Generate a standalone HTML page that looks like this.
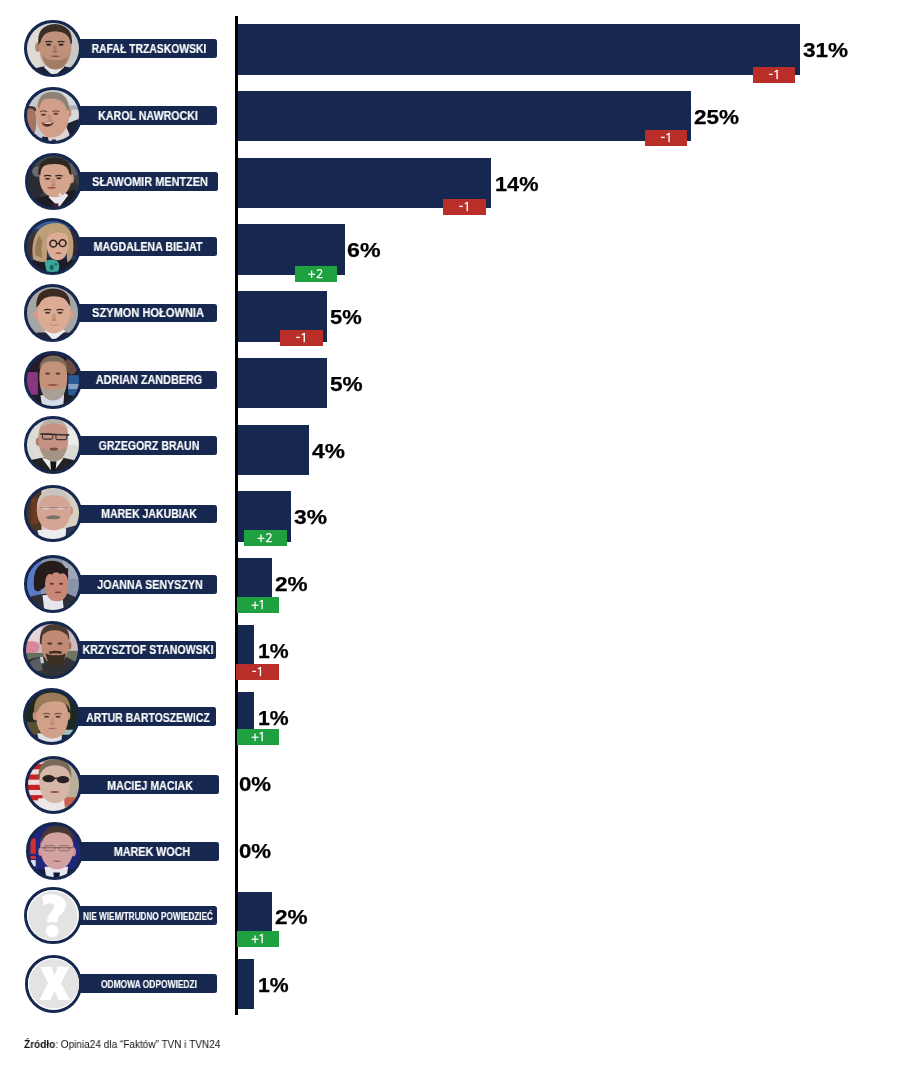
<!DOCTYPE html>
<html><head><meta charset="utf-8"><style>
*{margin:0;padding:0;box-sizing:border-box}
html,body{width:900px;height:1068px;background:#fff;overflow:hidden;position:relative;font-family:"Liberation Sans",sans-serif}
.axis{position:absolute;left:235.2px;top:16px;width:2.8px;height:999px;background:#000}
.bar{position:absolute;left:238px;height:50.5px;background:#16284f}
.bd{position:absolute}
.bd svg{display:block}
.bd.r{background:#b92e28}
.bd.g{background:#1fa142}
.pc{position:absolute;transform-origin:0 0;font-weight:bold;font-size:20.5px;line-height:20.5px;color:#000;white-space:nowrap;-webkit-text-stroke:0.25px #000}
.lb{position:absolute;left:60px;height:18.6px;background:#16284f;border-radius:0 2.5px 2.5px 0}
.nm{position:absolute;color:#fff;font-weight:bold;font-size:12.2px;line-height:12px;white-space:nowrap;transform:translate(-50%,-50%);-webkit-text-stroke:0.15px #fff}
.nm.sm{font-size:10.3px}
.nm,.pc,.bd,.src{will-change:transform}
.cc{position:absolute;width:57.6px;height:57.6px;border-radius:50%;border:3.6px solid #16284f;overflow:hidden;background:#16284f}
.cc svg{display:block;width:100%;height:100%}
.src{position:absolute;left:24.3px;top:1038px;font-size:10.5px;line-height:12px;color:#111;white-space:nowrap;transform:scaleX(0.955);transform-origin:0 0}
</style></head>
<body>
<div class="axis"></div>
<div class="bar" style="top:24px;width:562px"></div>
<div class="bar" style="top:90.75px;width:452.7px"></div>
<div class="bar" style="top:157.5px;width:252.9px"></div>
<div class="bar" style="top:224.25px;width:107px"></div>
<div class="bar" style="top:291px;width:89px"></div>
<div class="bar" style="top:357.75px;width:89px"></div>
<div class="bar" style="top:424.5px;width:70.7px"></div>
<div class="bar" style="top:491.25px;width:53px"></div>
<div class="bar" style="top:558px;width:34px"></div>
<div class="bar" style="top:624.75px;width:16px"></div>
<div class="bar" style="top:691.5px;width:16px"></div>
<div class="bar" style="top:891.75px;width:34px"></div>
<div class="bar" style="top:958.5px;width:16px"></div>
<div class="bd r" style="left:753px;top:67px;width:42.3px;height:16px"><svg width="42.3" height="16" viewBox="0 0 42.3 16"><g transform="translate(15.95,2.9)" fill="#fff"><rect x="0" y="3.85" width="3.8" height="1.3"/><g transform="translate(5.40,0)"><rect x="2.05" y="0" width="1.35" height="9.3"/><path d="M2.9 0.35 L0.2 2.0" stroke="#fff" stroke-width="1.15" fill="none"/></g></g></svg></div>
<div class="bd r" style="left:644.7px;top:130px;width:42.3px;height:16px"><svg width="42.3" height="16" viewBox="0 0 42.3 16"><g transform="translate(15.95,2.9)" fill="#fff"><rect x="0" y="3.85" width="3.8" height="1.3"/><g transform="translate(5.40,0)"><rect x="2.05" y="0" width="1.35" height="9.3"/><path d="M2.9 0.35 L0.2 2.0" stroke="#fff" stroke-width="1.15" fill="none"/></g></g></svg></div>
<div class="bd r" style="left:443px;top:198.7px;width:42.7px;height:16px"><svg width="42.7" height="16" viewBox="0 0 42.7 16"><g transform="translate(16.15,2.9)" fill="#fff"><rect x="0" y="3.85" width="3.8" height="1.3"/><g transform="translate(5.40,0)"><rect x="2.05" y="0" width="1.35" height="9.3"/><path d="M2.9 0.35 L0.2 2.0" stroke="#fff" stroke-width="1.15" fill="none"/></g></g></svg></div>
<div class="bd g" style="left:295px;top:266px;width:42.3px;height:15.7px"><svg width="42.3" height="15.7" viewBox="0 0 42.3 15.7"><g transform="translate(13.20,2.9)" fill="#fff"><rect x="0" y="4.75" width="6.9" height="1.25"/><rect x="2.83" y="1.6" width="1.25" height="7.6"/><g transform="translate(8.10,0)"><path d="M0.75 2.1 C1.2 0.9 2.1 0.65 3.1 0.65 C4.5 0.65 5.4 1.5 5.4 2.7 C5.4 4.0 4.5 5.0 3.2 6.2 L0.75 8.65 L6.2 8.65" stroke="#fff" stroke-width="1.3" fill="none" stroke-linejoin="round"/></g></g></svg></div>
<div class="bd r" style="left:280.3px;top:329.6px;width:42.7px;height:16px"><svg width="42.7" height="16" viewBox="0 0 42.7 16"><g transform="translate(16.15,2.9)" fill="#fff"><rect x="0" y="3.85" width="3.8" height="1.3"/><g transform="translate(5.40,0)"><rect x="2.05" y="0" width="1.35" height="9.3"/><path d="M2.9 0.35 L0.2 2.0" stroke="#fff" stroke-width="1.15" fill="none"/></g></g></svg></div>
<div class="bd g" style="left:244px;top:530px;width:43px;height:15.7px"><svg width="43" height="15.7" viewBox="0 0 43 15.7"><g transform="translate(13.55,2.9)" fill="#fff"><rect x="0" y="4.75" width="6.9" height="1.25"/><rect x="2.83" y="1.6" width="1.25" height="7.6"/><g transform="translate(8.10,0)"><path d="M0.75 2.1 C1.2 0.9 2.1 0.65 3.1 0.65 C4.5 0.65 5.4 1.5 5.4 2.7 C5.4 4.0 4.5 5.0 3.2 6.2 L0.75 8.65 L6.2 8.65" stroke="#fff" stroke-width="1.3" fill="none" stroke-linejoin="round"/></g></g></svg></div>
<div class="bd g" style="left:237px;top:597px;width:42px;height:15.6px"><svg width="42" height="15.6" viewBox="0 0 42 15.6"><g transform="translate(14.60,2.9)" fill="#fff"><rect x="0" y="4.75" width="6.9" height="1.25"/><rect x="2.83" y="1.6" width="1.25" height="7.6"/><g transform="translate(7.80,0)"><rect x="2.05" y="0" width="1.35" height="9.3"/><path d="M2.9 0.35 L0.2 2.0" stroke="#fff" stroke-width="1.15" fill="none"/></g></g></svg></div>
<div class="bd r" style="left:236px;top:664px;width:43px;height:15.7px"><svg width="43" height="15.7" viewBox="0 0 43 15.7"><g transform="translate(16.30,2.9)" fill="#fff"><rect x="0" y="3.85" width="3.8" height="1.3"/><g transform="translate(5.40,0)"><rect x="2.05" y="0" width="1.35" height="9.3"/><path d="M2.9 0.35 L0.2 2.0" stroke="#fff" stroke-width="1.15" fill="none"/></g></g></svg></div>
<div class="bd g" style="left:237px;top:729px;width:42px;height:15.7px"><svg width="42" height="15.7" viewBox="0 0 42 15.7"><g transform="translate(14.60,2.9)" fill="#fff"><rect x="0" y="4.75" width="6.9" height="1.25"/><rect x="2.83" y="1.6" width="1.25" height="7.6"/><g transform="translate(7.80,0)"><rect x="2.05" y="0" width="1.35" height="9.3"/><path d="M2.9 0.35 L0.2 2.0" stroke="#fff" stroke-width="1.15" fill="none"/></g></g></svg></div>
<div class="bd g" style="left:237px;top:931.3px;width:42px;height:16px"><svg width="42" height="16" viewBox="0 0 42 16"><g transform="translate(14.60,2.9)" fill="#fff"><rect x="0" y="4.75" width="6.9" height="1.25"/><rect x="2.83" y="1.6" width="1.25" height="7.6"/><g transform="translate(7.80,0)"><rect x="2.05" y="0" width="1.35" height="9.3"/><path d="M2.9 0.35 L0.2 2.0" stroke="#fff" stroke-width="1.15" fill="none"/></g></g></svg></div>
<div class="pc" style="left:803px;top:40.2px;transform:scaleX(1.0990)">31%</div>
<div class="pc" style="left:694px;top:107.03px;transform:scaleX(1.0990)">25%</div>
<div class="pc" style="left:494.54px;top:173.88px;transform:scaleX(1.0583)">14%</div>
<div class="pc" style="left:347.08px;top:240.36px;transform:scaleX(1.1309)">6%</div>
<div class="pc" style="left:330px;top:307.17px;transform:scaleX(1.0714)">5%</div>
<div class="pc" style="left:330px;top:374.33px;transform:scaleX(1.1029)">5%</div>
<div class="pc" style="left:311.8px;top:440.8px;transform:scaleX(1.1082)">4%</div>
<div class="pc" style="left:293.54px;top:507.07px;transform:scaleX(1.1123)">3%</div>
<div class="pc" style="left:275.46px;top:574.45px;transform:scaleX(1.1029)">2%</div>
<div class="pc" style="left:258px;top:640.52px;transform:scaleX(1.0354)">1%</div>
<div class="pc" style="left:258px;top:707.52px;transform:scaleX(1.0354)">1%</div>
<div class="pc" style="left:238.74px;top:774.34px;transform:scaleX(1.0840)">0%</div>
<div class="pc" style="left:238.74px;top:840.6px;transform:scaleX(1.0840)">0%</div>
<div class="pc" style="left:275.46px;top:907.45px;transform:scaleX(1.1029)">2%</div>
<div class="pc" style="left:258px;top:974.63px;transform:scaleX(1.0354)">1%</div>
<div class="lb" style="top:39px;width:157.4px"></div>
<div class="lb" style="top:106px;width:157.4px"></div>
<div class="lb" style="top:172.3px;width:158px"></div>
<div class="lb" style="top:237px;width:157.3px"></div>
<div class="lb" style="top:303.7px;width:157.3px"></div>
<div class="lb" style="top:370.7px;width:157.3px"></div>
<div class="lb" style="top:436px;width:157.3px"></div>
<div class="lb" style="top:504.7px;width:157.3px"></div>
<div class="lb" style="top:575.1px;width:157.3px"></div>
<div class="lb" style="top:640.7px;width:156px"></div>
<div class="lb" style="top:707.4px;width:155.5px"></div>
<div class="lb" style="top:775.4px;width:158.7px"></div>
<div class="lb" style="top:842px;width:159px"></div>
<div class="lb" style="top:906px;width:157.3px"></div>
<div class="lb" style="top:974.3px;width:157.3px"></div>
<div class="cc" style="left:24px;top:19.5px"><svg viewBox="0 0 100 100" preserveAspectRatio="none"><defs><filter id="b1" x="-10%" y="-10%" width="120%" height="120%"><feGaussianBlur stdDeviation="1.4"/></filter></defs><g filter="url(#b1)"><rect x="-5" y="-5" width="110" height="110" fill="#d4d4d2"/><rect x="-5" y="-5" width="30" height="110" fill="#dedbd4"/><rect x="80" y="-5" width="25" height="110" fill="#c9c9c8"/><path d="M-5 105 L-5 96 Q18 86 36 84 L70 84 Q88 86 105 96 L105 105Z" fill="#1e2234"/><path d="M33 86 L52 104 L72 86 L66 80 L40 80Z" fill="#e6e6e8"/><rect x="40" y="68" width="28" height="16" fill="#a97a68"/><ellipse cx="21" cy="47" rx="5" ry="9" fill="#b08070"/><path d="M24 46.0 C24 13.6 39.5 10 55 10 C70.5 10 86 13.6 86 46.0 C86 70.0 74.22 90 55 90 C35.78 90 24 70.0 24 46.0Z" fill="#c0927c"/><path d="M22 42 Q18 4 54 2 Q90 4 87 42 L84 38 Q82 18 56 16 Q30 16 26 38Z" fill="#3a2f28"/><path d="M30 62 Q34 88 55 90 Q76 88 80 62 Q72 74 55 72 Q38 74 30 62Z" fill="#8a6a58" opacity="0.55"/><ellipse cx="42" cy="42" rx="5" ry="2.2" fill="#3a2520"/><ellipse cx="66" cy="42" rx="5" ry="2.2" fill="#3a2520"/><path d="M35 37 Q42 34 49 37" stroke="#2e241e" stroke-width="2.2" fill="none"/><path d="M59 37 Q66 34 73 37" stroke="#2e241e" stroke-width="2.2" fill="none"/><ellipse cx="54" cy="50" rx="4" ry="7" fill="#9a6a58" opacity="0.45"/><ellipse cx="54" cy="56" rx="5" ry="2" fill="#9a6a58" opacity="0.7"/><path d="M44 64 Q55 62 66 64 Q55 68 44 64Z" fill="#8a4a40"/></g></svg></div>
<div class="cc" style="left:24.2px;top:86.5px"><svg viewBox="0 0 100 100" preserveAspectRatio="none"><defs><filter id="b2" x="-10%" y="-10%" width="120%" height="120%"><feGaussianBlur stdDeviation="1.4"/></filter></defs><g filter="url(#b2)"><rect x="-5" y="-5" width="110" height="110" fill="#c8ccd2"/><rect x="70" y="-5" width="35" height="70" fill="#d6d9de"/><rect x="70" y="30" width="35" height="8" fill="#a8acb4"/><ellipse cx="6" cy="38" rx="12" ry="7" fill="#3a3232"/><path d="M-6 60.3 C-6 38.43 0.0 36 6 36 C12.0 36 18 38.43 18 60.3 C18 76.5 15.600000000000001 90 6 90 C-3.6000000000000005 90 -6 76.5 -6 60.3Z" fill="#a47464"/><path d="M62 100 L66 70 L100 56 L105 105Z" fill="#1c2030"/><path d="M25 105 L30 90 L45 92 L45 105Z" fill="#1c2030"/><path d="M40 78 L74 66 L88 100 L42 105Z" fill="#e2d4d0"/><rect x="48" y="96" width="8" height="8" fill="#1c2a40"/><ellipse cx="81" cy="44" rx="5" ry="9" fill="#c08a74"/><path d="M17 46.35 C17 12.735 30.75 9 47 9 C63.25 9 82 12.735 82 46.35 C82 71.25 69.0 92 47 92 C30.0 92 17 71.25 17 46.35Z" fill="#d2a08a"/><path d="M22 34 Q20 4 50 4 Q80 4 82 38 L78 40 Q74 26 64 20 Q50 14 34 18 Q26 22 24 36Z" fill="#8e8278"/><path d="M28 63 Q40 61 52 62.5 Q48 71 39 71 Q30 70 28 63Z" fill="#5a2824"/><path d="M29.5 63.5 Q40 62 51 63 Q46 66 39 66 Q32 65.5 29.5 63.5Z" fill="#ece2da"/><ellipse cx="32" cy="48" rx="5" ry="2" fill="#5a3a30"/><ellipse cx="56" cy="46" rx="5" ry="2" fill="#5a3a30"/><path d="M25 42 Q32 39 39 42" stroke="#6a5040" stroke-width="2.2" fill="none"/><path d="M49 42 Q56 39 63 42" stroke="#6a5040" stroke-width="2.2" fill="none"/><ellipse cx="44" cy="53" rx="4" ry="7" fill="#b08070" opacity="0.45"/><ellipse cx="44" cy="59" rx="5" ry="2" fill="#b08070" opacity="0.7"/></g></svg></div>
<div class="cc" style="left:24.5px;top:152.9px"><svg viewBox="0 0 100 100" preserveAspectRatio="none"><defs><filter id="b3" x="-10%" y="-10%" width="120%" height="120%"><feGaussianBlur stdDeviation="1.4"/></filter></defs><g filter="url(#b3)"><rect x="-5" y="-5" width="110" height="110" fill="#3e4044"/><ellipse cx="15" cy="50" rx="20" ry="30" fill="#2a2c30"/><ellipse cx="18" cy="30" rx="10" ry="10" fill="#6a6c70"/><ellipse cx="88" cy="25" rx="12" ry="14" fill="#5a5c60"/><ellipse cx="85" cy="65" rx="12" ry="18" fill="#303236"/><path d="M-5 105 L0 85 Q20 78 40 76 L60 80 Q75 68 90 66 L105 80 L105 105Z" fill="#1a1c22"/><path d="M40 80 L60 100 L78 76 L70 70 L46 72Z" fill="#e8eaf0"/><rect x="47" y="92" width="12" height="10" fill="#3a2030"/><ellipse cx="84" cy="44" rx="5" ry="9" fill="#c89880"/><path d="M22 41.5 C22 13.15 36.5 10 52 10 C67.5 10 84 13.15 84 41.5 C84 62.5 72.22 80 52 80 C33.78 80 22 62.5 22 41.5Z" fill="#d4a48c"/><path d="M20 36 Q18 4 52 3 Q86 4 84 38 L80 34 Q78 18 60 16 Q40 14 30 20 Q24 26 24 38Z" fill="#2e2824"/><path d="M36 61 Q46 58 56 61 Q46 66 36 61Z" fill="#a05048"/><ellipse cx="38" cy="44" rx="5" ry="2" fill="#4a3028"/><ellipse cx="60" cy="43" rx="5" ry="2" fill="#4a3028"/><path d="M31 39 Q38 36 45 39" stroke="#2e2420" stroke-width="2.2" fill="none"/><path d="M53 39 Q60 36 67 39" stroke="#2e2420" stroke-width="2.2" fill="none"/><ellipse cx="49" cy="50" rx="4" ry="7" fill="#b08070" opacity="0.45"/><ellipse cx="49" cy="56" rx="5" ry="2" fill="#b08070" opacity="0.7"/><ellipse cx="62" cy="75" rx="3" ry="3" fill="#e8e8e8"/></g></svg></div>
<div class="cc" style="left:23.9px;top:217.7px"><svg viewBox="0 0 100 100" preserveAspectRatio="none"><defs><filter id="b4" x="-10%" y="-10%" width="120%" height="120%"><feGaussianBlur stdDeviation="1.4"/></filter></defs><g filter="url(#b4)"><rect x="-5" y="-5" width="110" height="110" fill="#283a62"/><rect x="-5" y="-5" width="110" height="20" fill="#3e5c96"/><ellipse cx="8" cy="45" rx="12" ry="25" fill="#3a3038"/><ellipse cx="92" cy="40" rx="12" ry="28" fill="#302838"/><path d="M-5 105 L0 80 Q30 70 50 72 Q80 70 105 80 L105 105Z" fill="#1a1a28"/><path d="M34 78 Q44 72 56 76 Q64 80 62 92 L58 105 L40 105 Q36 92 34 78Z" fill="#3aa898"/><ellipse cx="48" cy="90" rx="4" ry="5" fill="#1a6060"/><ellipse cx="56" cy="84" rx="3" ry="3" fill="#2a7070"/><path d="M12 74 Q6 40 22 18 Q38 2 60 4 Q82 8 88 30 Q92 50 88 68 Q84 78 78 80 L76 40 Q70 20 56 18 Q44 20 40 36 L38 78 Q24 82 12 74Z" fill="#bc9e78"/><path d="M16 66 Q14 44 24 28 L30 40 Q26 56 30 72Z" fill="#9a7c58"/><path d="M38 43.0 C38 18.7 49.5 16 60 16 C70.5 16 80 18.7 80 43.0 C80 61.0 73.7 76 60 76 C44.3 76 38 61.0 38 43.0Z" fill="#dcac94"/><path d="M38 34 Q44 16 60 14 Q76 14 80 30 Q70 20 58 22 Q46 24 38 34Z" fill="#bc9e78"/><circle cx="51" cy="44" r="6.5" fill="none" stroke="#2a2020" stroke-width="3"/><circle cx="69" cy="43" r="6.5" fill="none" stroke="#2a2020" stroke-width="3"/><path d="M57.5 44 L62.5 43.5" stroke="#2a2020" stroke-width="2"/><path d="M54 62 Q61 59 68 62 Q61 66 54 62Z" fill="#a05048"/></g></svg></div>
<div class="cc" style="left:23.7px;top:284.2px"><svg viewBox="0 0 100 100" preserveAspectRatio="none"><defs><filter id="b5" x="-10%" y="-10%" width="120%" height="120%"><feGaussianBlur stdDeviation="1.4"/></filter></defs><g filter="url(#b5)"><rect x="-5" y="-5" width="110" height="110" fill="#a6a6a6"/><path d="M5 105 L20 88 L80 88 L95 105Z" fill="#222630"/><path d="M34 86 L52 104 L74 86 L68 78 L40 78Z" fill="#eceef2"/><ellipse cx="86" cy="54" rx="5" ry="8" fill="#d49c84"/><ellipse cx="18" cy="54" rx="5" ry="8" fill="#d49c84"/><path d="M20 48.2 C20 17.42 36.0 14 52 14 C68.0 14 84 17.42 84 48.2 C84 71.0 71.84 90 52 90 C32.16 90 20 71.0 20 48.2Z" fill="#dcab93"/><path d="M18 40 Q16 4 50 3 Q84 4 84 38 L80 32 Q74 18 52 18 Q30 18 24 34Z" fill="#3a2a22"/><ellipse cx="40" cy="50" rx="5" ry="2" fill="#4a3028"/><ellipse cx="64" cy="50" rx="5" ry="2" fill="#4a3028"/><path d="M33 45 Q40 42 47 45" stroke="#3a2a22" stroke-width="2.2" fill="none"/><path d="M57 45 Q64 42 71 45" stroke="#3a2a22" stroke-width="2.2" fill="none"/><ellipse cx="52" cy="58" rx="4" ry="7" fill="#b07a64" opacity="0.45"/><ellipse cx="52" cy="64" rx="5" ry="2" fill="#b07a64" opacity="0.7"/><path d="M42 72 Q52 75 62 72 Q52 77 42 72Z" fill="#a06050"/></g></svg></div>
<div class="cc" style="left:24.2px;top:351.2px"><svg viewBox="0 0 100 100" preserveAspectRatio="none"><defs><filter id="b6" x="-10%" y="-10%" width="120%" height="120%"><feGaussianBlur stdDeviation="1.4"/></filter></defs><g filter="url(#b6)"><rect x="-5" y="-5" width="110" height="110" fill="#221c2a"/><rect x="-5" y="35" width="26" height="44" fill="#8a3480"/><rect x="80" y="41" width="25" height="40" fill="#2a5a98"/><rect x="80" y="58" width="25" height="10" fill="#8aa0c0"/><ellipse cx="86" cy="22" rx="12" ry="18" fill="#6a4a40"/><path d="M-5 105 L5 84 Q25 76 50 76 Q75 76 95 84 L105 105Z" fill="#1a1a24"/><path d="M26 80 L72 78 L70 105 L30 105Z" fill="#d8dce8"/><path d="M24 45.1 C24 13.51 37.5 10 51 10 C64.5 10 78 13.51 78 45.1 C78 68.5 69.9 88 51 88 C32.1 88 24 68.5 24 45.1Z" fill="#c49278"/><path d="M24 30 Q24 4 51 3 Q78 4 78 30 L74 22 Q66 14 51 14 Q34 14 28 22Z" fill="#7a6a5a"/><path d="M26 62 Q30 90 50 90 Q72 90 76 62 Q66 70 50 70 Q34 70 26 62Z" fill="#a8a098"/><path d="M38 60 Q50 56 62 60 Q50 64 38 60Z" fill="#8a5040"/><ellipse cx="40" cy="38" rx="5" ry="2" fill="#5a4038"/><ellipse cx="60" cy="38" rx="5" ry="2" fill="#5a4038"/></g></svg></div>
<div class="cc" style="left:24px;top:416.3px"><svg viewBox="0 0 100 100" preserveAspectRatio="none"><defs><filter id="b7" x="-10%" y="-10%" width="120%" height="120%"><feGaussianBlur stdDeviation="1.4"/></filter></defs><g filter="url(#b7)"><rect x="-5" y="-5" width="110" height="110" fill="#dcdcd6"/><rect x="75" y="20" width="30" height="30" fill="#ececea"/><path d="M-5 105 L0 82 Q25 74 45 74 L60 74 Q85 76 105 86 L105 105Z" fill="#222222"/><path d="M29 76 L50 104 L71 76Z" fill="#ececec"/><path d="M45 82 L57 82 L55 105 L47 105Z" fill="#141414"/><ellipse cx="22" cy="44" rx="5" ry="8" fill="#b07a6a"/><path d="M22 37.1 C22 5.51 36.5 2 51 2 C65.5 2 80 5.51 80 37.1 C80 60.5 71.88 80 51 80 C30.12 80 22 60.5 22 37.1Z" fill="#c69282"/><path d="M26 20 Q30 0 52 0 Q74 0 78 20 Q70 8 52 8 Q34 8 26 20Z" fill="#b8b0a8"/><path d="M26 29 L82 31" stroke="#2a2626" stroke-width="3"/><rect x="30" y="29" width="20" height="10" rx="3" fill="none" stroke="#3a3636" stroke-width="2"/><rect x="56" y="30" width="21" height="10" rx="3" fill="none" stroke="#3a3636" stroke-width="2"/><path d="M28 55 Q32 82 52 82 Q72 82 76 55 Q66 62 52 60 Q38 62 28 55Z" fill="#a49484"/><ellipse cx="52" cy="58" rx="8" ry="3" fill="#7a4a40"/></g></svg></div>
<div class="cc" style="left:24.1px;top:484.9px"><svg viewBox="0 0 100 100" preserveAspectRatio="none"><defs><filter id="b8" x="-10%" y="-10%" width="120%" height="120%"><feGaussianBlur stdDeviation="1.4"/></filter></defs><g filter="url(#b8)"><rect x="-5" y="-5" width="110" height="110" fill="#d8d0c0"/><rect x="-5" y="-5" width="33" height="110" fill="#4c3222"/><rect x="8" y="20" width="14" height="50" fill="#6a3a20"/><path d="M70 105 L74 78 L105 70 L105 105Z" fill="#2a3550"/><path d="M-5 105 L-5 80 L22 82 L25 105Z" fill="#2a3550"/><path d="M20 82 L76 78 L74 105 L26 105Z" fill="#ecebee"/><ellipse cx="84" cy="44" rx="5" ry="9" fill="#c89080"/><path d="M19 41.300000000000004 C19 11.33 35.5 8 52 8 C68.5 8 85 11.33 85 41.300000000000004 C85 63.5 75.1 82 52 82 C28.900000000000002 82 19 63.5 19 41.300000000000004Z" fill="#d4a494"/><path d="M20 40 Q18 4 52 2 Q86 4 86 40 L82 30 Q76 14 52 14 Q28 14 24 30Z" fill="#c8c4c0"/><path d="M36 56 Q50 50 66 56 Q62 62 50 60 Q40 62 36 56Z" fill="#7a7068"/><path d="M26 38 Q36 34 48 38 Q36 46 26 38Z M54 38 Q66 34 76 38 Q66 46 54 38Z" fill="#e8d0c8"/><path d="M26 38 L78 38" stroke="#8a7a70" stroke-width="1.5"/></g></svg></div>
<div class="cc" style="left:24.1px;top:555.2px"><svg viewBox="0 0 100 100" preserveAspectRatio="none"><defs><filter id="b9" x="-10%" y="-10%" width="120%" height="120%"><feGaussianBlur stdDeviation="1.4"/></filter></defs><g filter="url(#b9)"><rect x="-5" y="-5" width="110" height="110" fill="#8a94a8"/><rect x="-5" y="-5" width="32" height="110" fill="#5a7ac8"/><rect x="70" y="-5" width="35" height="45" fill="#a0a8b8"/><path d="M-5 105 L8 74 L30 70 L72 66 L94 76 L105 105Z" fill="#2e2e36"/><path d="M30 72 L68 70 L72 105 L34 105Z" fill="#e6e6ee"/><path d="M14 60 Q8 12 42 6 Q74 2 80 34 Q80 46 74 50 L40 52 Q30 60 24 64 Q16 66 14 60Z" fill="#261c1c"/><path d="M35 52.1 C35 28.61 46.75 26 58 26 C69.25 26 80 28.61 80 52.1 C80 69.5 73.7 84 58 84 C41.3 84 35 69.5 35 52.1Z" fill="#c88878"/><path d="M34 38 Q38 28 48 32 Q56 24 64 31 Q72 26 79 36 L80 20 L34 20Z" fill="#261c1c"/><ellipse cx="48" cy="50" rx="4" ry="1.8" fill="#5a3030"/><ellipse cx="66" cy="50" rx="4" ry="1.8" fill="#5a3030"/><path d="M52 66 Q60 64 68 66 Q60 71 52 66Z" fill="#903a38"/></g></svg></div>
<div class="cc" style="left:23.2px;top:621.2px"><svg viewBox="0 0 100 100" preserveAspectRatio="none"><defs><filter id="b10" x="-10%" y="-10%" width="120%" height="120%"><feGaussianBlur stdDeviation="1.4"/></filter></defs><g filter="url(#b10)"><rect x="-5" y="-5" width="110" height="110" fill="#cdb8be"/><rect x="-5" y="-5" width="35" height="40" fill="#e6d6da"/><ellipse cx="10" cy="45" rx="16" ry="12" fill="#d88898"/><rect x="-5" y="56" width="40" height="50" fill="#66705e"/><rect x="76" y="52" width="30" height="55" fill="#707462"/><path d="M-5 105 L0 72 Q15 64 34 64 L78 64 Q92 70 105 80 L105 105Z" fill="#303236"/><path d="M8 74 Q18 66 30 66 L32 90 Q20 92 10 90Z" fill="#5a5c62"/><path d="M27 64 L33 64 L35 76 L29 76Z" fill="#d0d0d0"/><ellipse cx="84" cy="42" rx="4" ry="8" fill="#a87060"/><path d="M30 38.4 C30 9.24 42.75 6 56 6 C69.25 6 83 9.24 83 38.4 C83 60.0 73.46000000000001 78 56 78 C39.54 78 30 60.0 30 38.4Z" fill="#c08a74"/><path d="M27 38 Q24 0 56 0 Q86 0 84 34 L80 22 Q70 12 56 12 Q40 12 32 22 L30 40Z" fill="#4a3a30"/><path d="M38 56 Q42 82 58 82 Q74 82 77 56 Q70 62 58 60 Q46 62 38 56Z" fill="#3e2e24"/><path d="M44 54 Q58 50 70 54 L68 58 Q58 55 46 58Z" fill="#3e2e24"/><ellipse cx="46" cy="38" rx="5" ry="2" fill="#4a3028"/><ellipse cx="66" cy="38" rx="5" ry="2" fill="#4a3028"/></g></svg></div>
<div class="cc" style="left:22.5px;top:687.6px"><svg viewBox="0 0 100 100" preserveAspectRatio="none"><defs><filter id="b11" x="-10%" y="-10%" width="120%" height="120%"><feGaussianBlur stdDeviation="1.4"/></filter></defs><g filter="url(#b11)"><rect x="-5" y="-5" width="110" height="110" fill="#1a2a20"/><rect x="70" y="75" width="35" height="30" fill="#a0c0b8"/><rect x="-5" y="60" width="30" height="30" fill="#5a5030"/><path d="M-5 105 L10 85 L90 85 L105 105Z" fill="#1e2840"/><path d="M22 82 L70 82 L68 105 L26 105Z" fill="#e0e0e8"/><ellipse cx="18" cy="48" rx="5" ry="9" fill="#c89078"/><ellipse cx="82" cy="48" rx="4" ry="8" fill="#c89078"/><path d="M20 50.2 C20 19.42 35.5 16 51 16 C66.5 16 82 19.42 82 50.2 C82 73.0 71.46000000000001 92 51 92 C30.54 92 20 73.0 20 50.2Z" fill="#d0a088"/><path d="M16 44 Q12 4 50 3 Q88 4 86 40 L82 30 Q72 18 52 20 Q30 20 22 40Z" fill="#9a7a58"/><ellipse cx="40" cy="50" rx="5" ry="2" fill="#5a3a30"/><ellipse cx="62" cy="50" rx="5" ry="2" fill="#5a3a30"/><path d="M33 45 Q40 42 47 45" stroke="#7a5a40" stroke-width="2.2" fill="none"/><path d="M55 45 Q62 42 69 45" stroke="#7a5a40" stroke-width="2.2" fill="none"/><ellipse cx="51" cy="58" rx="4" ry="7" fill="#b08070" opacity="0.45"/><ellipse cx="51" cy="64" rx="5" ry="2" fill="#b08070" opacity="0.7"/><path d="M42 72 Q51 70 60 72 Q51 75 42 72Z" fill="#a06050"/></g></svg></div>
<div class="cc" style="left:24.9px;top:756.2px"><svg viewBox="0 0 100 100" preserveAspectRatio="none"><defs><filter id="b12" x="-10%" y="-10%" width="120%" height="120%"><feGaussianBlur stdDeviation="1.4"/></filter></defs><g filter="url(#b12)"><rect x="-5" y="-5" width="110" height="110" fill="#b8b098"/><rect x="-5" y="-5" width="33" height="110" fill="#ecdcdc"/><rect x="-5" y="10" width="33" height="10" fill="#c82020"/><rect x="-5" y="30" width="33" height="10" fill="#c82020"/><rect x="-5" y="50" width="33" height="10" fill="#c82020"/><rect x="-5" y="70" width="33" height="10" fill="#c82020"/><rect x="68" y="74" width="24" height="18" fill="#c86050"/><path d="M16 105 L20 76 L70 76 L72 105Z" fill="#ece8e8"/><path d="M22 44.2 C22 13.42 38.0 10 53 10 C68.0 10 82 13.42 82 44.2 C82 67.0 71.8 86 53 86 C32.2 86 22 67.0 22 44.2Z" fill="#d6b6a6"/><path d="M20 40 Q18 0 53 0 Q86 0 84 38 L80 26 Q72 12 53 12 Q32 12 24 28Z" fill="#7a6a58"/><ellipse cx="40" cy="38" rx="12" ry="7" fill="#2a2222"/><ellipse cx="68" cy="40" rx="12" ry="7" fill="#2a2222"/><rect x="48" y="36" width="12" height="3" fill="#2a2222"/><path d="M42 64 Q52 60 62 64 Q52 68 42 64Z" fill="#904840"/></g></svg></div>
<div class="cc" style="left:25.5px;top:822.2px"><svg viewBox="0 0 100 100" preserveAspectRatio="none"><defs><filter id="b13" x="-10%" y="-10%" width="120%" height="120%"><feGaussianBlur stdDeviation="1.4"/></filter></defs><g filter="url(#b13)"><rect x="-5" y="-5" width="110" height="110" fill="#20287a"/><rect x="3" y="26" width="10" height="30" fill="#d03030"/><rect x="3" y="60" width="10" height="6" fill="#d03030"/><rect x="3" y="68" width="10" height="12" fill="#e0e0f0"/><path d="M-5 105 L15 86 L90 86 L105 105Z" fill="#141c40"/><path d="M30 81 L76 81 L72 105 L34 105Z" fill="#e8e8f0"/><path d="M47 92 L60 92 L58 105 L49 105Z" fill="#101830"/><ellipse cx="86" cy="52" rx="5" ry="9" fill="#d09090"/><ellipse cx="22" cy="52" rx="4" ry="8" fill="#d09090"/><path d="M22 43.1 C22 11.51 39.0 8 55 8 C71.0 8 86 11.51 86 43.1 C86 66.5 75.12 86 55 86 C32.879999999999995 86 22 66.5 22 43.1Z" fill="#d2a2a2"/><path d="M24 36 Q22 2 55 2 Q88 2 86 36 L82 26 Q74 14 55 14 Q36 14 28 26Z" fill="#4a3830"/><path d="M24 44 L86 44" stroke="#7a5a50" stroke-width="2"/><rect x="30" y="40" width="20" height="10" rx="3" fill="none" stroke="#7a5a50" stroke-width="1.5"/><rect x="58" y="40" width="20" height="10" rx="3" fill="none" stroke="#7a5a50" stroke-width="1.5"/><path d="M44 70 Q54 68 64 70 Q54 73 44 70Z" fill="#905858"/></g></svg></div>
<div class="cc" style="left:24.2px;top:886.8px"><svg viewBox="0 0 100 100" preserveAspectRatio="none"><rect x="-5" y="-5" width="110" height="110" fill="#e3e3e3"/><circle cx="50" cy="50" r="49.2" fill="none" stroke="#fff" stroke-width="2.4"/><path d="M28.7 12.9 Q50 3 68.8 14.8 Q76 20 75.5 30 Q74.5 42 62 50 Q58.8 54 58.8 62.4 L38.7 62.4 Q38.7 51 46.2 43 Q52.5 36 52.5 30.5 Q51.5 25.5 46 25.8 Q38.5 26.5 32.5 30.5 Z" fill="#fff"/><circle cx="48.7" cy="79.5" r="12.3" fill="#fff"/></svg></div>
<div class="cc" style="left:24.5px;top:955.1px"><svg viewBox="0 0 100 100" preserveAspectRatio="none"><rect x="-5" y="-5" width="110" height="110" fill="#e3e3e3"/><circle cx="50" cy="50" r="49.2" fill="none" stroke="#fff" stroke-width="2.4"/><path d="M23.7 17 L45.5 17 L51.3 35 L57.5 17 L80 17 L63.8 48.7 L81.3 81.3 L59.5 81.3 L51.3 63 L43.7 81.3 L22.4 81.3 L38.7 48.7Z" fill="#fff"/></svg></div>
<div class="nm" style="top:48.93px;left:148.75px;transform:translate(-50%,-50%) scaleX(0.8513)">RAFAŁ TRZASKOWSKI</div>
<div class="nm" style="top:115.93px;left:148.25px;transform:translate(-50%,-50%) scaleX(0.8729)">KAROL NAWROCKI</div>
<div class="nm" style="top:182.37px;left:149.75px;transform:translate(-50%,-50%) scaleX(0.8950)">SŁAWOMIR MENTZEN</div>
<div class="nm" style="top:246.93px;left:148.25px;transform:translate(-50%,-50%) scaleX(0.8730)">MAGDALENA BIEJAT</div>
<div class="nm" style="top:313.49px;left:148.25px;transform:translate(-50%,-50%) scaleX(0.9075)">SZYMON HOŁOWNIA</div>
<div class="nm" style="top:380.49px;left:149.25px;transform:translate(-50%,-50%) scaleX(0.8886)">ADRIAN ZANDBERG</div>
<div class="nm" style="top:445.93px;left:149px;transform:translate(-50%,-50%) scaleX(0.8644)">GRZEGORZ BRAUN</div>
<div class="nm" style="top:514.49px;left:149.25px;transform:translate(-50%,-50%) scaleX(0.8606)">MAREK JAKUBIAK</div>
<div class="nm" style="top:585.31px;left:149.5px;transform:translate(-50%,-50%) scaleX(0.8772)">JOANNA SENYSZYN</div>
<div class="nm" style="top:650.49px;left:147.5px;transform:translate(-50%,-50%) scaleX(0.8730)">KRZYSZTOF STANOWSKI</div>
<div class="nm" style="top:717.75px;left:147.5px;transform:translate(-50%,-50%) scaleX(0.8584)">ARTUR BARTOSZEWICZ</div>
<div class="nm" style="top:785.75px;left:150.25px;transform:translate(-50%,-50%) scaleX(0.8723)">MACIEJ MACIAK</div>
<div class="nm" style="top:851.93px;left:151.5px;transform:translate(-50%,-50%) scaleX(0.8818)">MAREK WOCH</div>
<div class="nm sm" style="top:917.33px;left:148.3px;transform:translate(-50%,-50%) scaleX(0.7965)">NIE WIEM/TRUDNO POWIEDZIEĆ</div>
<div class="nm sm" style="top:984.72px;left:148.5px;transform:translate(-50%,-50%) scaleX(0.8177)">ODMOWA ODPOWIEDZI</div>
<div class="src"><b>Źródło</b>: Opinia24 dla “Faktów” TVN i TVN24</div>
</body></html>
